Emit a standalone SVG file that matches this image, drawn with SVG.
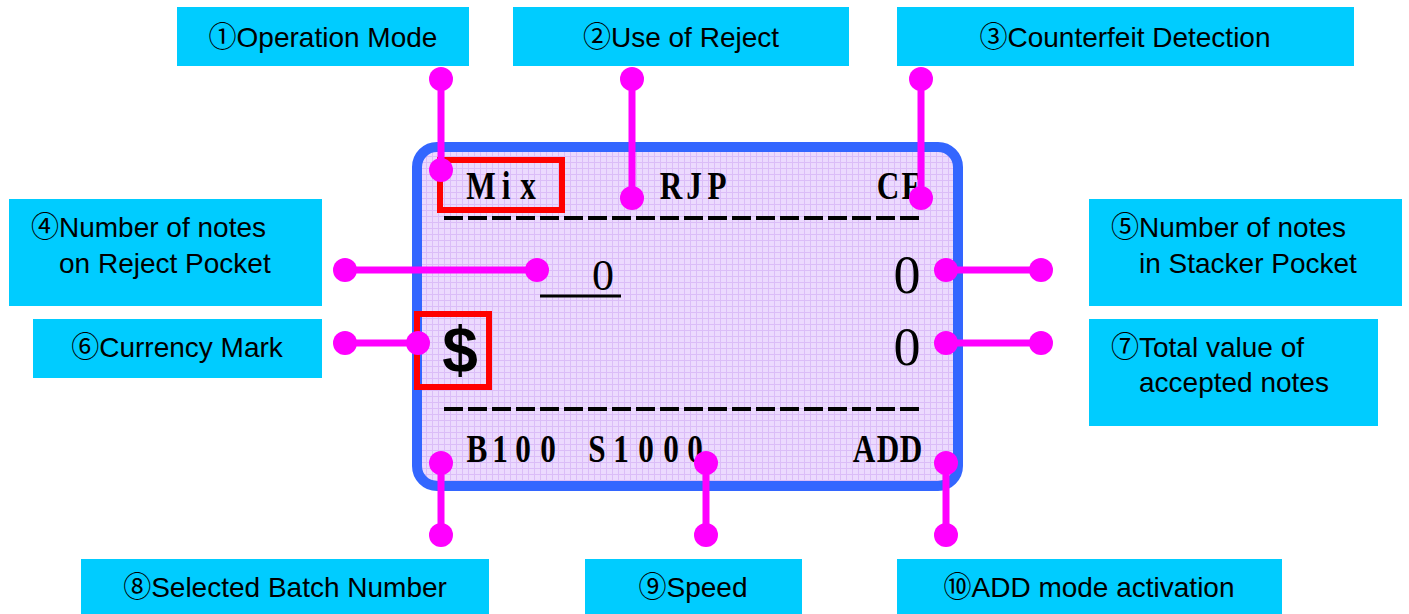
<svg xmlns="http://www.w3.org/2000/svg" width="1409" height="614" viewBox="0 0 1409 614">
  <defs>
    <pattern id="lcdGrid" width="6" height="6" patternUnits="userSpaceOnUse">
      <rect width="6" height="6" fill="#ecdafe"/>
      <path d="M0 0.5H6M0.5 0V6" stroke="#dbbdf8" stroke-width="1"/>
    </pattern>
    <marker id="dot" markerUnits="userSpaceOnUse" markerWidth="26" markerHeight="26" refX="13" refY="13" overflow="visible">
      <circle cx="13" cy="13" r="12" fill="#ff00ff"/>
    </marker>
    <style>
      .box { fill: #00ccff; }
      .lbl { font-family: "Liberation Sans", "Noto Sans CJK JP", sans-serif; font-size: 28px; fill: #000; }
      .mid { text-anchor: middle; }
      .lcd { font-family: "Liberation Serif", serif; font-weight: bold; font-size: 40px; fill: #000; text-anchor: middle; }
      .num { font-family: "Liberation Serif", serif; fill: #000; text-anchor: middle; }
      .sel { fill: none; stroke: #ff0000; stroke-width: 6; }
      .dash { stroke: #000; stroke-width: 4; stroke-dasharray: 19 5; }
      .conn { stroke: #ff00ff; stroke-width: 7; fill: none; marker-start: url(#dot); marker-end: url(#dot); }
    </style>
  </defs>

  <rect width="1409" height="614" fill="#ffffff"/>

  <!-- LCD panel -->
  <g id="lcd-panel">
    <rect x="417" y="147" width="541" height="339" rx="20" ry="20" fill="url(#lcdGrid)" stroke="#3366ff" stroke-width="10"/>
    <rect x="440" y="160" width="122" height="50" class="sel"/>
    <rect x="417" y="314" width="72" height="73" class="sel"/>
    <line x1="444" y1="218" x2="921" y2="218" class="dash"/>
    <line x1="444" y1="409" x2="921" y2="409" class="dash"/>
    <line x1="540" y1="296" x2="621" y2="296" stroke="#000" stroke-width="3"/>
    <!-- condensed bold characters on a fixed pitch -->
    <g transform="scale(0.78,1)">
      <text class="lcd" y="199" x="616.7 648.7 676.9">Mix</text>
      <text class="lcd" y="199" x="860.3 889.7 919.2">RJP</text>
      <text class="lcd" y="199" x="1138.5 1167.9">CF</text>
      <text class="lcd" y="462" x="611.5 641.0 670.5 702.6">B100</text>
      <text class="lcd" y="462" x="765.4 796.2 828.2 860.3 891.0">S1000</text>
      <text class="lcd" y="462" x="1107.7 1138.5 1167.9">ADD</text>
    </g>
    <text class="num" x="603" y="290" font-size="44">0</text>
    <text class="num" x="907" y="293" font-size="54">0</text>
    <text class="num" x="907" y="365" font-size="54">0</text>
    <text x="460" y="372" font-family="Liberation Sans, sans-serif" font-weight="bold" font-size="64" text-anchor="middle" fill="#000">$</text>
  </g>

  <!-- labels -->
  <g id="label-1">
    <rect class="box" x="177" y="7" width="292" height="59"/>
    <text class="lbl mid" x="323" y="47">①Operation Mode</text>
  </g>
  <g id="label-2">
    <rect class="box" x="513" y="7" width="336" height="59"/>
    <text class="lbl mid" x="681" y="47">②Use of Reject</text>
  </g>
  <g id="label-3">
    <rect class="box" x="897" y="7" width="457" height="59"/>
    <text class="lbl mid" x="1125" y="47">③Counterfeit Detection</text>
  </g>
  <g id="label-4">
    <rect class="box" x="9" y="199" width="313" height="107"/>
    <text class="lbl" x="31" y="237">④Number of notes</text>
    <text class="lbl" x="59" y="273">on Reject Pocket</text>
  </g>
  <g id="label-5">
    <rect class="box" x="1089" y="199" width="313" height="107"/>
    <text class="lbl" x="1111" y="237">⑤Number of notes</text>
    <text class="lbl" x="1139" y="273">in Stacker Pocket</text>
  </g>
  <g id="label-6">
    <rect class="box" x="33" y="319" width="289" height="59"/>
    <text class="lbl mid" x="177" y="357">⑥Currency Mark</text>
  </g>
  <g id="label-7">
    <rect class="box" x="1089" y="319" width="289" height="107"/>
    <text class="lbl" x="1111" y="357">⑦Total value of</text>
    <text class="lbl" x="1139" y="392">accepted notes</text>
  </g>
  <g id="label-8">
    <rect class="box" x="81" y="559" width="408" height="55"/>
    <text class="lbl mid" x="285" y="597">⑧Selected Batch Number</text>
  </g>
  <g id="label-9">
    <rect class="box" x="585" y="559" width="217" height="55"/>
    <text class="lbl mid" x="693" y="597">⑨Speed</text>
  </g>
  <g id="label-10">
    <rect class="box" x="897" y="559" width="385" height="55"/>
    <text class="lbl mid" x="1089" y="597">⑩ADD mode activation</text>
  </g>

  <!-- connectors -->
  <g id="connectors">
    <line class="conn" x1="441" y1="79" x2="441" y2="170"/>
    <line class="conn" x1="632" y1="79" x2="632" y2="198"/>
    <line class="conn" x1="921" y1="79" x2="921" y2="198"/>
    <line class="conn" x1="345" y1="270" x2="537" y2="270"/>
    <line class="conn" x1="1041" y1="270" x2="946" y2="270"/>
    <line class="conn" x1="345" y1="343" x2="418" y2="343"/>
    <line class="conn" x1="1041" y1="343" x2="946" y2="343"/>
    <line class="conn" x1="441" y1="463" x2="441" y2="535"/>
    <line class="conn" x1="706" y1="463" x2="706" y2="535"/>
    <line class="conn" x1="946" y1="463" x2="946" y2="535"/>
  </g>
</svg>
